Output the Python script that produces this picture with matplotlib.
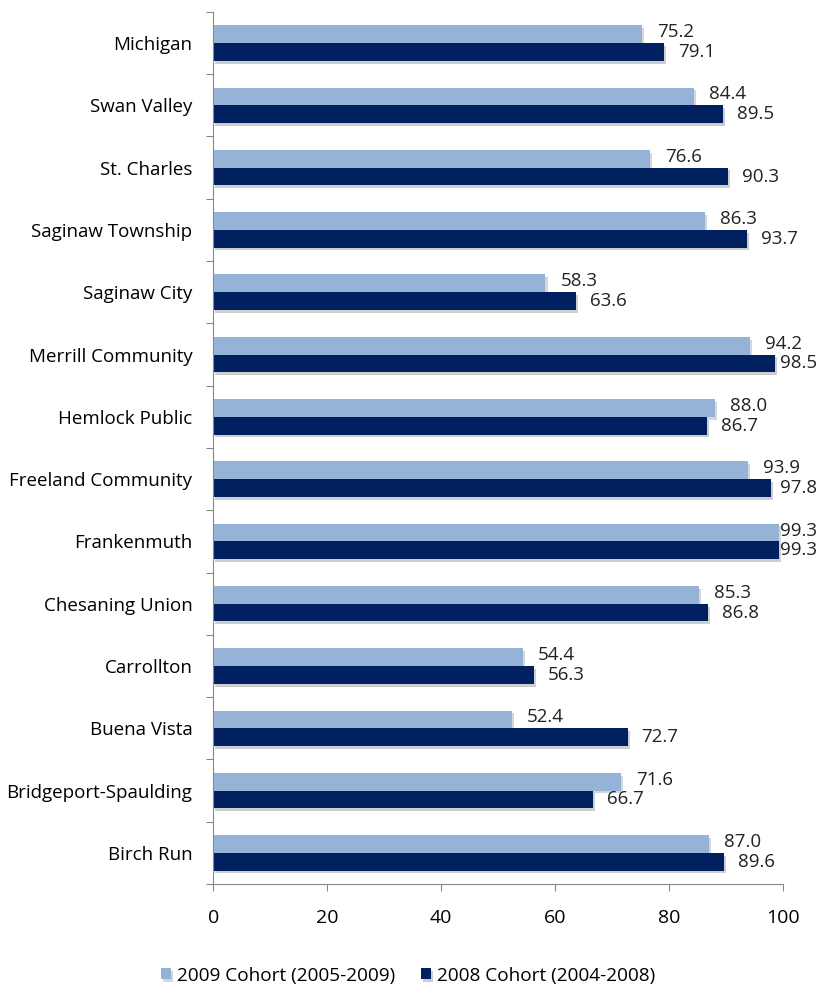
import matplotlib.pyplot as plt
import matplotlib.patheffects as pe
import numpy as np

plt.rcParams['font.family'] = ['Open Sans', 'DejaVu Sans']

districts = ['Michigan', 'Swan Valley', 'St. Charles', 'Saginaw Township', 'Saginaw City',
             'Merrill Community', 'Hemlock Public', 'Freeland Community', 'Frankenmuth',
             'Chesaning Union', 'Carrollton', 'Buena Vista', 'Bridgeport-Spaulding', 'Birch Run']
cohort_2009 = [75.2, 84.4, 76.6, 86.3, 58.3, 94.2, 88.0, 93.9, 99.3, 85.3, 54.4, 52.4, 71.6, 87.0]
cohort_2008 = [79.1, 89.5, 90.3, 93.7, 63.6, 98.5, 86.7, 97.8, 99.3, 86.8, 56.3, 72.7, 66.7, 89.6]

light = '#95b3d7'
dark = '#002060'

fig = plt.figure(figsize=(8.2, 9.9), dpi=100)
ax = fig.add_axes([0.26, 0.107, 0.695, 0.881])

y = np.arange(len(districts))
h = 0.285
shadow = [pe.SimplePatchShadow(offset=(1.5, -2), alpha=0.2), pe.Normal()]

b1 = ax.barh(y - h / 2, cohort_2009, height=h, color=light, label='2009 Cohort (2005-2009)',
             path_effects=shadow)
b2 = ax.barh(y + h / 2, cohort_2008, height=h, color=dark, label='2008 Cohort (2004-2008)',
             path_effects=shadow)

labels = []
for yi, v in zip(y, cohort_2009):
    labels.append(ax.annotate(f'{v:.1f}', (v, yi - h / 2), xytext=(15, 2), textcoords='offset pixels',
                              va='center', ha='left', fontsize=13.5, color='#222222'))
for yi, v in zip(y, cohort_2008):
    labels.append(ax.annotate(f'{v:.1f}', (v, yi + h / 2), xytext=(14, 0), textcoords='offset pixels',
                              va='center', ha='left', fontsize=13.5, color='#222222'))

ax.set_ylim(len(districts) - 0.5, -0.5)
ax.set_xlim(0, 100)
ax.set_xticks([0, 20, 40, 60, 80, 100])
ax.tick_params(axis='x', labelsize=14, length=5, color='#888888', pad=13)

ax.set_yticks(np.arange(len(districts) + 1) - 0.5)
ax.set_yticklabels([])
ax.set_yticks(y, minor=True)
ax.set_yticklabels(districts, minor=True)
ax.tick_params(axis='y', which='major', length=5, color='#888888')
ax.tick_params(axis='y', which='minor', length=0, labelsize=13.5, pad=15)

for s in ['top', 'right']:
    ax.spines[s].set_visible(False)
for s in ['left', 'bottom']:
    ax.spines[s].set_color('#888888')

fig.legend(handles=[b1, b2], loc='lower center', ncol=2, frameon=False, fontsize=13.7,
           bbox_to_anchor=(0.498, -0.006), handlelength=0.5, handleheight=0.5, columnspacing=1.35,
           handletextpad=0.35, borderaxespad=0.2)

# keep data labels inside the figure, like the spreadsheet does
renderer = fig.canvas.get_renderer()
fig_w = fig.get_figwidth() * fig.dpi
for t in labels:
    bb = t.get_window_extent(renderer)
    if bb.x1 > fig_w - 3:
        dx, dy = t.xyann
        t.xyann = (dx - (bb.x1 - (fig_w - 3)), dy)

fig.savefig('out.png', dpi=100)
